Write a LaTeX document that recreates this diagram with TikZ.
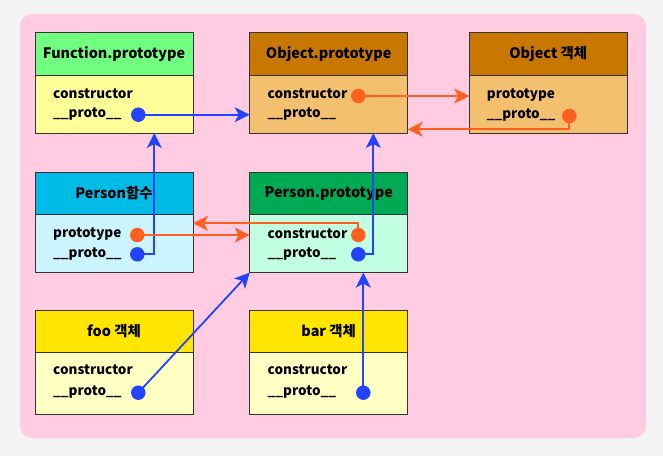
\documentclass[tikz,border=0pt]{standalone}
\usepackage{fontspec}
\setmainfont{Noto Sans CJK KR}
\usetikzlibrary{arrows.meta}
\definecolor{bgc}{HTML}{F4F4F4}
\definecolor{pinkc}{HTML}{FFCCE2}
\definecolor{fnh}{HTML}{70FF80}
\definecolor{fnb}{HTML}{FFFF99}
\definecolor{oph}{HTML}{C87800}
\definecolor{opb}{HTML}{F3C070}
\definecolor{pfh}{HTML}{00BBE6}
\definecolor{pfb}{HTML}{CCF4FF}
\definecolor{pph}{HTML}{00AA55}
\definecolor{ppb}{HTML}{C2FFE2}
\definecolor{insh}{HTML}{FFE600}
\definecolor{insb}{HTML}{FFFFC4}
\definecolor{bluec}{HTML}{2244FF}
\definecolor{orgc}{HTML}{FF6020}
\definecolor{edgec}{HTML}{333333}
\tikzset{
  hdr/.style={draw=edgec, line width=0.9pt, minimum width=158pt, minimum height=43pt, inner sep=0pt, outer sep=0pt, anchor=north west, font=\bfseries\fontsize{14.4}{16}\selectfont},
  bdy/.style={draw=edgec, line width=0.9pt, minimum width=158pt, inner sep=0pt, outer sep=0pt, anchor=north west},
  txt/.style={anchor=west, inner sep=0pt, font=\bfseries\fontsize{13.5}{16}\selectfont},
  dotb/.style={circle, fill=bluec, minimum size=14.5pt, inner sep=0pt},
  doto/.style={circle, fill=orgc, minimum size=14.5pt, inner sep=0pt},
  barr/.style={draw=bluec, line width=1.8pt, -{Stealth[length=15pt, width=15pt, inset=4pt]}},
  oarr/.style={draw=orgc, line width=1.8pt, -{Stealth[length=15pt, width=15pt, inset=4pt]}},
}
\begin{document}
\begin{tikzpicture}[x=1pt, y=-1pt]
\fill[bgc] (0,0) rectangle (663,456);
\fill[pinkc, rounded corners=12pt] (20,14) rectangle (646,438);
% Function.prototype
\node[hdr, fill=fnh] (fnH) at (35,32.3) {Function.prototype};
\node[bdy, fill=fnb, minimum height=57.7pt] (fnB) at (35,75.3) {};
\node[txt] (fnC) at (53,93.5) {constructor};
\node[txt] (fnP) at (53,114.5) {\_\_proto\_\_};
\node[dotb] (fnPd) at (138.3,114.7) {};
% Object.prototype
\node[hdr, fill=oph] (opH) at (249.7,32.3) {Object.prototype};
\node[bdy, fill=opb, minimum height=57.7pt] (opB) at (249.7,75.3) {};
\node[txt] (opC) at (267.5,93.5) {constructor};
\node[txt] (opP) at (267.5,114.5) {\_\_proto\_\_};
\node[doto] (opCd) at (358.3,96) {};
% Object instance
\node[hdr, fill=oph] (oxH) at (469.3,32.3) {Object 객체};
\node[bdy, fill=opb, minimum height=57.7pt] (oxB) at (469.3,75.3) {};
\node[txt] (oxT) at (486.7,95.5) {prototype};
\node[txt] (oxP) at (486.7,115.5) {\_\_proto\_\_};
\node[doto] (oxPd) at (569.3,116) {};
% Person function
\node[hdr, fill=pfh] (pfH) at (35,172) {Person함수};
\node[bdy, fill=pfb, minimum height=58.3pt] (pfB) at (35,214.3) {};
\node[txt] (pfT) at (53,234) {prototype};
\node[txt] (pfP) at (53,254) {\_\_proto\_\_};
\node[doto] (pfTd) at (137.3,235) {};
\node[dotb] (pfPd) at (137.3,254.3) {};
% Person.prototype
\node[hdr, fill=pph] (ppH) at (249.7,172) {Person.prototype};
\node[bdy, fill=ppb, minimum height=58.3pt] (ppB) at (249.7,214.3) {};
\node[txt] (ppC) at (267.5,234) {constructor};
\node[txt] (ppP) at (267.5,254) {\_\_proto\_\_};
\node[doto] (ppCd) at (358.3,235) {};
\node[dotb] (ppPd) at (358.3,254.3) {};
% foo
\node[hdr, fill=insh] (foH) at (35,310) {foo 객체};
\node[bdy, fill=insb, minimum height=62.3pt] (foB) at (35,352.3) {};
\node[txt] (foC) at (53,370) {constructor};
\node[txt] (foP) at (53,392) {\_\_proto\_\_};
\node[dotb] (foPd) at (138.3,392.7) {};
% bar
\node[hdr, fill=insh] (baH) at (249.7,310) {bar 객체};
\node[bdy, fill=insb, minimum height=62.3pt] (baB) at (249.7,352.3) {};
\node[txt] (baC) at (267.5,370) {constructor};
\node[txt] (baP) at (267.5,392) {\_\_proto\_\_};
\node[dotb] (baPd) at (363.3,392.7) {};
% connectors
\coordinate (c3) at (569.3,129.3);
\coordinate (c4) at (154.3,254.3);
\coordinate (c6) at (358.3,223.3);
\coordinate (c7) at (373.3,254.3);
\draw[barr] (fnPd.center) -- (fnPd.center -| opB.west);
\draw[oarr] (opCd.center) -- (opCd.center -| oxB.west);
\draw[oarr] (oxPd.center) -- (c3) -- (c3 -| opB.east);
\draw[barr] (pfPd.center) -- (c4) -- (c4 |- fnB.south);
\draw[oarr] (pfTd.center) -- (pfTd.center -| ppB.west);
\draw[oarr] (ppCd.center) -- (c6) -- (c6 -| pfB.east);
\draw[barr] (ppPd.center) -- (c7) -- (c7 |- opB.south);
\draw[barr] (foPd.center) -- (ppB.south west);
\draw[barr] (baPd.center) -- (baPd.center |- ppB.south);
\end{tikzpicture}
\end{document}
